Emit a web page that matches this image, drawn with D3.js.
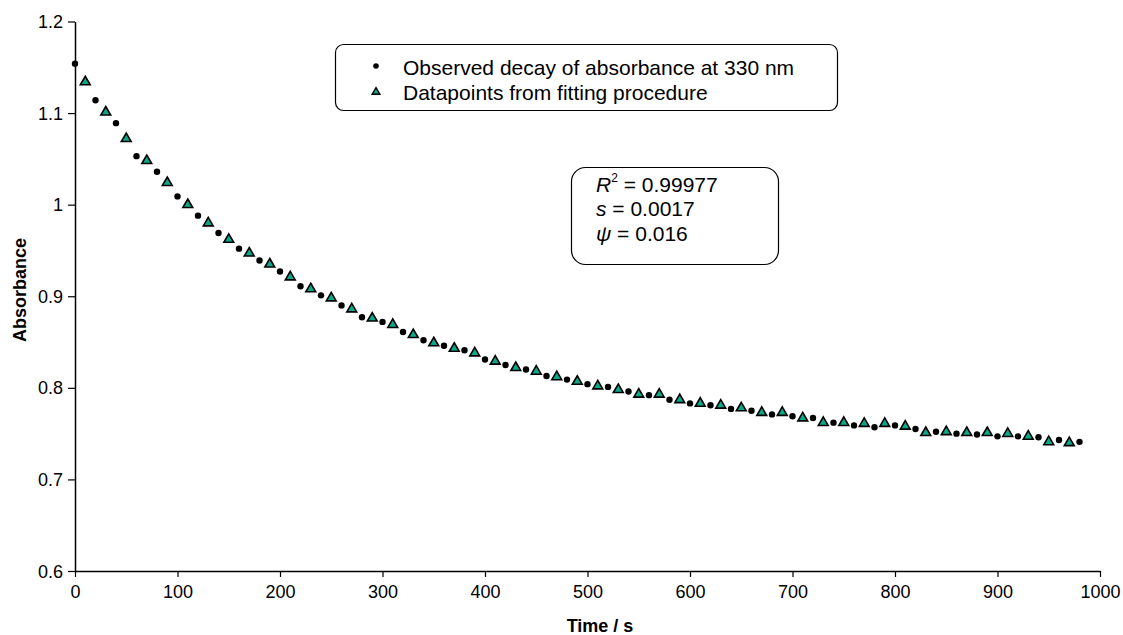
<!DOCTYPE html>
<html>
<head>
<meta charset="utf-8">
<script src="https://cdn.jsdelivr.net/npm/d3@7"></script>
<style>
  body { margin: 0; background: #fff; }
  svg text { font-family: 'Liberation Sans', Arial, sans-serif; fill: #000; }
  .tick-label { font-size: 18px; }
  .axis-title { font-size: 18px; font-weight: bold; }
  .legend-text { font-size: 21px; }
</style>
</head>
<body>
<script>
// observed absorbance at 330 nm (every 20 s, from 0 s)
const obsTimes = d3.range(0, 981, 20);
const obsValues = [
  1.154, 1.114, 1.089, 1.053, 1.036, 1.009, 0.988, 0.969, 0.952, 0.939,
  0.927, 0.911, 0.901, 0.890, 0.877, 0.872, 0.861, 0.852, 0.846, 0.841,
  0.831, 0.825, 0.820, 0.813, 0.809, 0.804, 0.801, 0.796, 0.792, 0.787,
  0.783, 0.781, 0.777, 0.775, 0.771, 0.769, 0.767, 0.762, 0.759, 0.757,
  0.759, 0.755, 0.752, 0.750, 0.749, 0.747, 0.747, 0.746, 0.743, 0.741
];

// fitted datapoints (every 20 s, from 10 s)
const fitTimes = d3.range(10, 971, 20);
const fitValues = [
  1.134, 1.101, 1.072, 1.048, 1.024, 1.000, 0.980, 0.962, 0.947, 0.935,
  0.921, 0.908, 0.898, 0.886, 0.876, 0.869, 0.858, 0.849, 0.843, 0.838,
  0.829, 0.822, 0.818, 0.812, 0.807, 0.802, 0.798, 0.793, 0.793, 0.787,
  0.783, 0.781, 0.778, 0.773, 0.773, 0.767, 0.762, 0.762, 0.761, 0.761,
  0.758, 0.751, 0.752, 0.751, 0.751, 0.750, 0.747, 0.741, 0.740
];

const xTicks = [0, 100, 200, 300, 400, 500, 600, 700, 800, 900, 1000];
const yTicks = [0.6, 0.7, 0.8, 0.9, 1, 1.1, 1.2];
const legendLabels = ['Observed decay of absorbance at 330 nm', 'Datapoints from fitting procedure'];

const W = 1123, H = 635;
const x = d3.scaleLinear().domain([0, 1000]).range([75, 1100]);
const y = d3.scaleLinear().domain([0.6, 1.2]).range([571, 21.5]);
const fitColor = '#0aa88a';

const svg = d3.select('body').append('svg').attr('width', W).attr('height', H);

// axes
const xAxis = svg.append('g')
  .attr('transform', `translate(0,${y(0.6)})`)
  .call(d3.axisBottom(x).tickValues(xTicks).tickFormat(d3.format('d')).tickSize(6).tickSizeOuter(0));
const yAxis = svg.append('g')
  .attr('transform', `translate(${x(0)},0)`)
  .call(d3.axisLeft(y).tickValues(yTicks).tickFormat((d) => String(d)).tickSize(7).tickSizeOuter(0));

[xAxis, yAxis].forEach((g) => {
  g.select('.domain').attr('stroke', '#000').attr('stroke-width', 1.5);
  g.selectAll('.tick line').attr('stroke', '#000').attr('stroke-width', 1.2);
  g.selectAll('.tick text').attr('class', 'tick-label').attr('font-size', null).attr('font-family', null);
});
xAxis.selectAll('.tick text').attr('y', 14).attr('dy', '0.71em');
yAxis.selectAll('.tick text').attr('x', -12).attr('dy', '0.34em');

// axis titles
svg.append('text').attr('class', 'axis-title')
  .attr('x', 600).attr('y', 632).attr('text-anchor', 'middle').text('Time / s');
svg.append('text').attr('class', 'axis-title')
  .attr('transform', 'translate(26,290) rotate(-90)')
  .attr('text-anchor', 'middle').text('Absorbance');

// observed points
svg.append('g').selectAll('circle')
  .data(obsTimes.map((t, i) => ({ t, v: obsValues[i] })))
  .join('circle')
  .attr('cx', (d) => x(d.t)).attr('cy', (d) => y(d.v))
  .attr('r', 3.2).attr('fill', '#000');

// fitted points
const tri = d3.symbol().type(d3.symbolTriangle).size(42);
svg.append('g').selectAll('path')
  .data(fitTimes.map((t, i) => ({ t, v: fitValues[i] })))
  .join('path')
  .attr('d', tri)
  .attr('transform', (d) => `translate(${x(d.t)},${y(d.v)})`)
  .attr('fill', fitColor).attr('stroke', '#000').attr('stroke-width', 1.6);

// legend
const lg = svg.append('g');
lg.append('rect').attr('x', 335.5).attr('y', 44.5).attr('width', 502).attr('height', 66)
  .attr('rx', 8).attr('fill', '#fff').attr('stroke', '#000').attr('stroke-width', 1.2);
lg.append('circle').attr('cx', 376).attr('cy', 66).attr('r', 2.8).attr('fill', '#000');
lg.append('path').attr('d', d3.symbol().type(d3.symbolTriangle).size(26))
  .attr('transform', 'translate(376,92)')
  .attr('fill', fitColor).attr('stroke', '#000').attr('stroke-width', 1.4);
lg.selectAll('text.legend-text')
  .data(legendLabels)
  .join('text')
  .attr('class', 'legend-text')
  .attr('x', 403).attr('y', (d, i) => 75 + i * 25)
  .text((d) => d);

// statistics box
const sb = svg.append('g');
sb.append('rect').attr('x', 571.5).attr('y', 167.5).attr('width', 207).attr('height', 97)
  .attr('rx', 14).attr('fill', '#fff').attr('stroke', '#000').attr('stroke-width', 1.2);
const r2 = sb.append('text').attr('class', 'legend-text').attr('x', 596).attr('y', 192);
r2.append('tspan').attr('font-style', 'italic').text('R');
r2.append('tspan').attr('font-size', '12px').attr('dy', -10).text('2');
r2.append('tspan').attr('dy', 10).text(' = 0.99977');
const s = sb.append('text').attr('class', 'legend-text').attr('x', 596).attr('y', 216);
s.append('tspan').attr('font-style', 'italic').text('s');
s.append('tspan').text(' = 0.0017');
const psi = sb.append('text').attr('class', 'legend-text').attr('x', 596).attr('y', 241);
psi.append('tspan').attr('font-style', 'italic').text('ψ');
psi.append('tspan').text(' = 0.016');
</script>
</body>
</html>
